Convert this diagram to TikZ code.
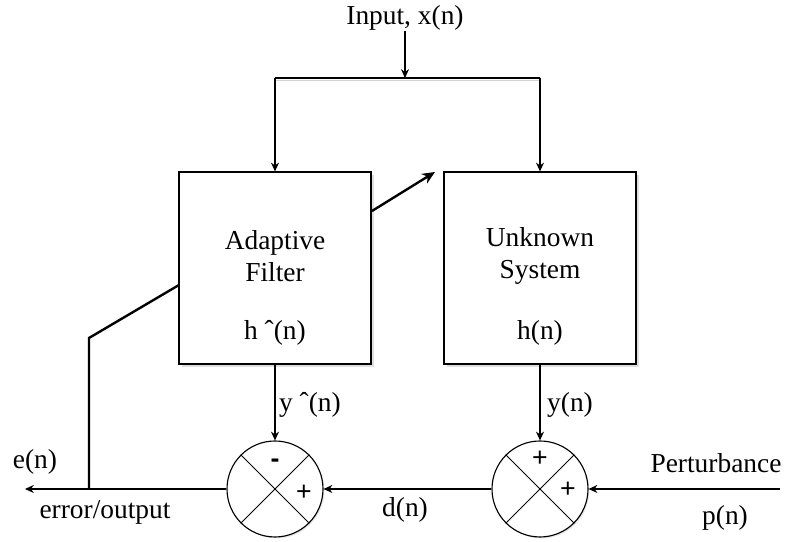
\documentclass[tikz,border=0pt]{standalone}
\usepackage{fontspec}
\setmainfont{Liberation Serif}
\setsansfont{Liberation Sans}
\usetikzlibrary{shadows,arrows.meta}
\begin{document}
\begin{tikzpicture}
    % Define styles for different elements
    \tikzstyle{block} = [rectangle, draw, line width=0.8pt, fill=white, minimum width=48mm, minimum height=48mm, drop shadow={shadow xshift=1.8pt, shadow yshift=-1.8pt, fill=black!25}]
    \tikzstyle{adder} = [circle, draw, line width=0.8pt, fill=white, minimum size=24mm, inner sep=0pt, drop shadow={shadow xshift=1pt, shadow yshift=-1pt, fill=black!20}]
    \tikzstyle{txt} = [font=\fontsize{19.5}{22.7}\selectfont, align=center, inner sep=0pt]
    \tikzstyle{sign} = [font=\sffamily\fontsize{19}{22}\selectfont, inner sep=0pt]
    \tikzstyle{flow} = [draw, line width=0.8pt, -{Stealth[length=2.2mm, width=2mm]}]
    \tikzstyle{wire} = [draw, line width=0.8pt]
    \tikzstyle{link} = [draw, line width=1.7pt]

    % Size of the whole picture
    \useasboundingbox (0,0) rectangle (19.875,13.55);

    % Input and the split above the blocks
    \node[txt] (input) at (10.125,13.1) {Input, x(n)};
    \coordinate (split) at (10.125,11.6);
    \coordinate (splitl) at (6.875,11.6);
    \coordinate (splitr) at (13.5,11.6);

    % The two blocks
    \node[block] (filter) at (6.875,6.85) {};
    \node[block] (system) at (13.5,6.85) {};
    \node[txt] (filtername) at (6.875,7.15) {Adaptive\\Filter};
    \node[txt] (filterh) at (6.875,5.225) {h ˆ(n)};
    \node[txt] (systemname) at (13.5,7.15) {Unknown\\System};
    \node[txt] (systemh) at (13.5,5.225) {h(n)};

    % Summing junctions
    \node[adder] (sum1) at (6.875,1.325) {};
    \node[adder] (sum2) at (13.5,1.325) {};
    \draw[line width=0.6pt] (sum1.north west) -- (sum1.south east);
    \draw[line width=0.6pt] (sum1.north east) -- (sum1.south west);
    \draw[line width=0.6pt] (sum2.north west) -- (sum2.south east);
    \draw[line width=0.6pt] (sum2.north east) -- (sum2.south west);
    \node[sign] (minus1) at (6.875,1.975) {\textbf{-}};
    \node[sign] (plus1) at (7.6,1.225) {+};
    \node[sign] (plus2) at (13.5,2.075) {+};
    \node[sign] (plus3) at (14.2,1.3) {+};

    % Free ends of the connectors
    \coordinate (out) at (0.625,1.325);
    \coordinate (pin) at (19.5,1.325);
    \coordinate (tap) at (2.225,1.325);
    \coordinate (knee) at (2.225,5.1);
    \coordinate (fin) at (4.475,6.425);
    \coordinate (tune1) at (9.3,8.275);
    \coordinate (tune2) at (10.875,9.25);

    % Connect the nodes
    \draw[gray!35, line width=0.8pt] ([yshift=-2pt]splitl) -- ([yshift=-2pt]splitr);
    \draw[flow] (input) -- (split);
    \draw[wire] (splitl) -- (splitr);
    \draw[flow] (splitl) -- (filter);
    \draw[flow] (splitr) -- (system);
    \draw[flow] (filter) -- (sum1);
    \draw[flow] (system) -- (sum2);
    \draw[flow] (pin) -- (sum2);
    \draw[flow] (sum2) -- (sum1);
    \draw[flow] (sum1) -- (out);
    \draw[link] (tap) -- (knee) -- (fin);
    \draw[link, -{Stealth[length=3.2mm, width=2.8mm]}] (tune1) -- (tune2);

    % Add labels next to the connectors
    \node[txt] (yhat) at (7.75,3.425) {y ˆ(n)};
    \node[txt] (ylab) at (14.25,3.425) {y(n)};
    \node[txt] (elab) at (0.875,2.0) {e(n)};
    \node[txt] (errlab) at (2.625,0.75) {error/output};
    \node[txt] (dlab) at (10.125,0.8) {d(n)};
    \node[txt] (perlab) at (17.9,1.975) {Perturbance};
    \node[txt] (plab) at (18.125,0.6) {p(n)};
\end{tikzpicture}
\end{document}
